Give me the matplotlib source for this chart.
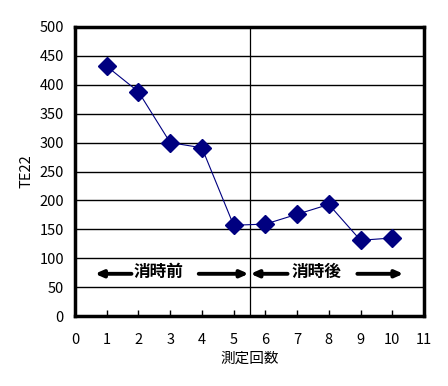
import matplotlib
matplotlib.use('Agg')
import matplotlib.pyplot as plt

plt.rcParams['font.family'] = ['Noto Sans CJK JP', 'DejaVu Sans']

# data
counts = [1, 2, 3, 4, 5, 6, 7, 8, 9, 10]
te22   = [432, 388, 300, 291, 157, 159, 176, 193, 131, 135]
split_x = 5.5
arrow_y = 73
labels = ['消時前', '消時後']
label_x = [2.62, 7.62]
arrow_spans = [(0.63, 1.78, 3.9, 5.47), (5.53, 6.7, 8.9, 10.35)]

fig = plt.figure(figsize=(4.48, 3.86), dpi=100)
ax = fig.add_axes([75/448, 1 - 316/386, 349/448, 289/386])

ax.set_xlim(0, 11)
ax.set_ylim(0, 500)
ax.set_xticks(range(0, 12))
ax.set_yticks(range(0, 501, 50))
for y in range(50, 500, 50):
    ax.axhline(y, color='black', lw=1.0, zorder=1)
ax.axvline(split_x, color='black', lw=0.9, zorder=1)

ax.plot(counts, te22, color='#000080', lw=0.8, marker='D', markersize=9.5,
        markerfacecolor='#000080', markeredgecolor='#000080', zorder=3)

# arrows + labels
arrow_kw = dict(arrowstyle='-|>,head_length=0.45,head_width=0.2', color='black',
                lw=2.8, shrinkA=0, shrinkB=0)
for lab, lx, (x0, g0, g1, x1) in zip(labels, label_x, arrow_spans):
    ax.annotate('', xy=(x0, arrow_y), xytext=(g0, arrow_y), arrowprops=arrow_kw)
    ax.annotate('', xy=(x1, arrow_y), xytext=(g1, arrow_y), arrowprops=arrow_kw)
    ax.text(lx, arrow_y + 3, lab, ha='center', va='center', fontsize=12,
            fontweight='bold')

for s in ax.spines.values():
    s.set_linewidth(2.5)
ax.tick_params(axis='x', direction='in', length=4, width=1, pad=12, labelsize=10.5)
ax.tick_params(axis='y', length=0, pad=8, labelsize=10.5)

ax.set_xlabel('測定回数', fontsize=10.5, labelpad=4)
ax.set_ylabel('TE22', fontsize=10.5, labelpad=4)

fig.savefig('out.png', dpi=100)
